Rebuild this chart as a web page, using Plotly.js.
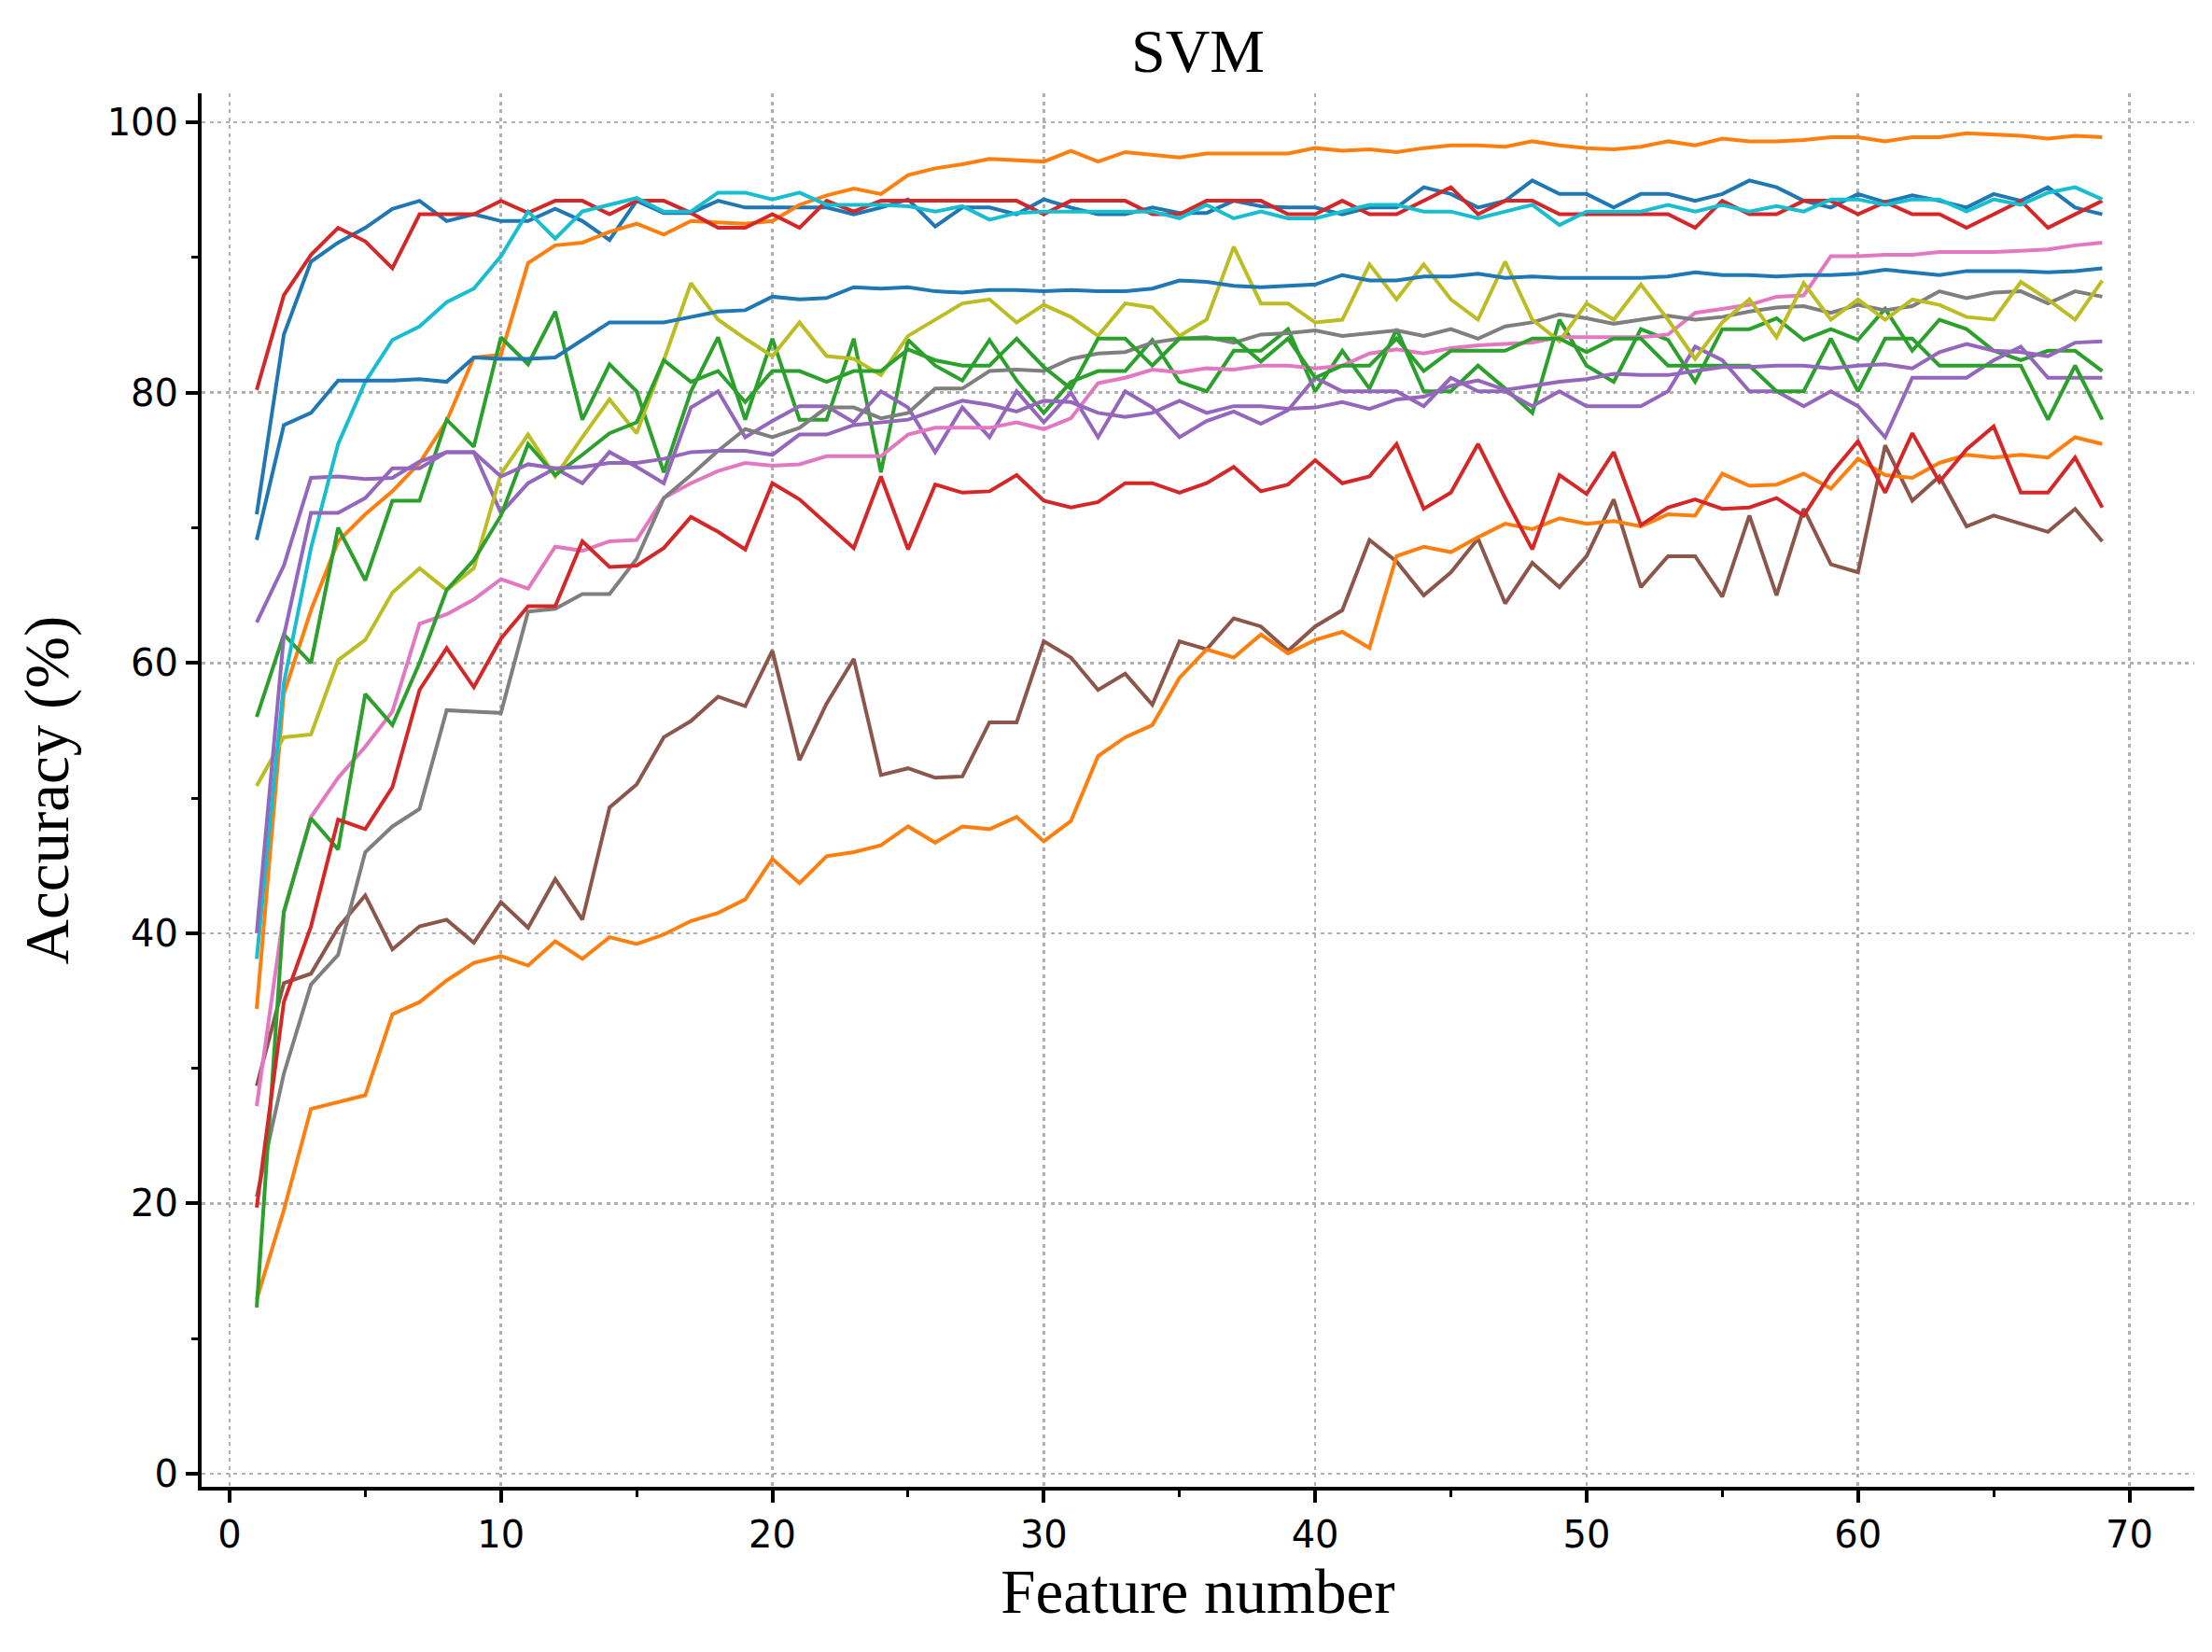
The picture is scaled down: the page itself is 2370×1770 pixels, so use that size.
<!DOCTYPE html>
<html>
<head>
<meta charset="utf-8">
<script src="https://cdn.plot.ly/plotly-3.0.1.min.js"></script>
<style>
  html, body { margin: 0; padding: 0; background: #ffffff; }
  #chart { width: 2370px; height: 1770px; }
</style>
</head>
<body>
<div id="chart"></div>
<script>
// Feature numbers (x axis)
const featureNumber = [1,2,3,4,5,6,7,8,9,10,11,12,13,14,15,16,17,18,19,20,
  21,22,23,24,25,26,27,28,29,30,31,32,33,34,35,36,37,38,39,40,
  41,42,43,44,45,46,47,48,49,50,51,52,53,54,55,56,57,58,59,60,
  61,62,63,64,65,66,67,68,69];

// Accuracy (%) series
const blueA = [71.0, 84.3, 89.7, 91.1, 92.2, 93.6, 94.2, 92.7, 93.2, 92.7,
  92.7, 93.6, 92.7, 91.3, 94.2, 93.3, 93.3, 94.2, 93.7, 93.7,
  93.7, 93.7, 93.2, 93.7, 94.3, 92.3, 93.7, 93.7, 93.2, 94.3,
  93.7, 93.2, 93.2, 93.7, 93.3, 93.3, 94.2, 93.8, 93.7, 93.7,
  93.2, 93.7, 93.7, 95.2, 94.7, 93.7, 94.2, 95.7, 94.7, 94.7,
  93.7, 94.7, 94.7, 94.2, 94.7, 95.7, 95.2, 94.2, 93.7, 94.7,
  94.1, 94.6, 94.2, 93.7, 94.7, 94.2, 95.2, 93.7, 93.2];

const orangeA = [34.4, 57.7, 63.9, 69.0, 71.0, 72.7, 74.8, 77.9, 82.6, 82.8,
  89.6, 90.9, 91.1, 91.9, 92.5, 91.7, 92.7, 92.6, 92.5, 92.7,
  93.9, 94.6, 95.1, 94.7, 96.1, 96.6, 96.9, 97.3, 97.2, 97.1,
  97.9, 97.1, 97.8, 97.6, 97.4, 97.7, 97.7, 97.7, 97.7, 98.1,
  97.9, 98.0, 97.8, 98.1, 98.3, 98.3, 98.2, 98.6, 98.3, 98.1,
  98.0, 98.2, 98.6, 98.3, 98.8, 98.6, 98.6, 98.7, 98.9, 98.9,
  98.6, 98.9, 98.9, 99.2, 99.1, 99.0, 98.8, 99.0, 98.9];

const greenA = [56.0, 62.1, 60.0, 70.0, 66.1, 72.0, 72.0, 78.0, 76.0, 84.1,
  82.1, 86.0, 78.0, 82.1, 80.1, 74.1, 80.1, 84.1, 78.0, 84.0,
  78.0, 78.0, 84.0, 74.1, 83.9, 82.0, 80.9, 83.9, 80.9, 78.5,
  80.8, 81.6, 81.6, 83.9, 80.8, 80.1, 83.1, 83.1, 84.7, 80.1,
  83.1, 80.3, 84.7, 80.1, 80.1, 82.0, 80.3, 78.5, 85.4, 82.0,
  80.8, 84.7, 83.9, 80.8, 84.7, 84.7, 85.5, 83.9, 84.7, 83.9,
  86.2, 83.1, 85.4, 84.7, 83.1, 82.4, 83.1, 83.1, 81.6];

const redA = [80.2, 87.2, 90.2, 92.2, 91.2, 89.2, 93.2, 93.2, 93.2, 94.2,
  93.3, 94.2, 94.2, 93.2, 94.2, 94.2, 93.3, 92.2, 92.2, 93.2,
  92.2, 94.2, 93.4, 94.2, 94.2, 94.2, 94.2, 94.2, 94.2, 93.2,
  94.2, 94.2, 94.2, 93.2, 93.2, 94.2, 94.2, 94.2, 93.2, 93.2,
  94.2, 93.2, 93.2, 94.2, 95.2, 93.2, 94.2, 94.2, 93.2, 93.2,
  93.2, 93.2, 93.2, 92.2, 94.2, 93.2, 93.2, 94.2, 94.2, 93.2,
  94.1, 93.2, 93.2, 92.2, 93.2, 94.2, 92.2, 93.2, 94.2];

const purpleA = [63.0, 67.2, 73.7, 73.8, 73.6, 73.7, 74.9, 75.6, 75.6, 71.1,
  73.3, 74.4, 73.3, 75.6, 74.5, 73.3, 78.9, 80.1, 76.7, 77.9,
  79.0, 79.0, 77.8, 80.1, 78.9, 75.6, 78.9, 76.7, 80.1, 77.8,
  80.0, 76.7, 80.1, 78.9, 76.7, 77.9, 78.6, 77.7, 78.7, 81.1,
  80.1, 80.1, 80.1, 79.0, 81.1, 80.1, 80.1, 79.0, 80.1, 79.0,
  79.0, 79.0, 80.1, 83.4, 82.4, 80.1, 80.1, 79.0, 80.1, 79.0,
  76.7, 81.1, 81.1, 81.1, 82.4, 83.4, 81.1, 81.1, 81.1];

const brown = [28.7, 36.3, 37.0, 40.4, 42.8, 38.8, 40.5, 41.0, 39.3, 42.3,
  40.4, 44.0, 41.0, 49.3, 51.0, 54.5, 55.7, 57.5, 56.8, 60.9,
  52.8, 57.0, 60.3, 51.7, 52.2, 51.5, 51.6, 55.6, 55.6, 61.6,
  60.4, 58.0, 59.2, 56.9, 61.6, 61.0, 63.3, 62.7, 60.9, 62.7,
  63.9, 69.1, 67.5, 65.0, 66.7, 69.2, 64.4, 67.4, 65.6, 67.9,
  72.1, 65.6, 67.9, 67.9, 64.9, 70.9, 65.0, 71.4, 67.3, 66.7,
  76.1, 72.0, 73.8, 70.1, 70.9, 70.3, 69.7, 71.4, 69.0];

const pink = [27.2, 41.5, 48.6, 51.5, 53.8, 56.4, 62.9, 63.6, 64.7, 66.2,
  65.5, 68.6, 68.3, 69.0, 69.1, 72.2, 73.3, 74.2, 74.8, 74.6,
  74.7, 75.3, 75.3, 75.3, 76.9, 77.4, 77.4, 77.4, 77.8, 77.3,
  78.1, 80.7, 81.1, 81.7, 81.5, 81.8, 81.7, 82.0, 82.0, 81.8,
  82.0, 82.9, 83.2, 82.9, 83.3, 83.5, 83.6, 83.7, 84.1, 84.1,
  84.1, 84.1, 84.3, 85.9, 86.2, 86.5, 87.1, 87.2, 90.1, 90.1,
  90.2, 90.2, 90.4, 90.4, 90.4, 90.5, 90.6, 90.9, 91.1];

const gray = [20.5, 29.6, 36.2, 38.4, 46.0, 47.9, 49.2, 56.5, 56.4, 56.3,
  63.8, 64.0, 65.1, 65.1, 67.7, 72.2, 73.9, 75.7, 77.3, 76.7,
  77.4, 78.9, 78.9, 78.1, 78.5, 80.3, 80.3, 81.6, 81.7, 81.6,
  82.5, 82.9, 83.0, 83.7, 84.0, 84.1, 83.7, 84.3, 84.4, 84.6,
  84.2, 84.4, 84.6, 84.2, 84.7, 84.0, 84.9, 85.2, 85.8, 85.5,
  85.1, 85.4, 85.7, 85.4, 85.6, 86.0, 86.3, 86.4, 85.9, 86.5,
  86.1, 86.4, 87.5, 87.0, 87.4, 87.5, 86.6, 87.5, 87.1];

const olive = [50.9, 54.5, 54.7, 60.2, 61.7, 65.2, 67.0, 65.4, 67.0, 74.0,
  76.9, 73.8, 76.7, 79.5, 77.0, 82.4, 88.1, 85.4, 84.0, 82.7,
  85.2, 82.7, 82.5, 81.3, 84.2, 85.4, 86.6, 86.9, 85.2, 86.5,
  85.6, 84.2, 86.6, 86.3, 84.2, 85.4, 90.8, 86.6, 86.6, 85.2,
  85.4, 89.5, 86.9, 89.5, 86.9, 85.4, 89.7, 85.4, 83.8, 86.6,
  85.4, 88.0, 85.4, 82.5, 85.2, 86.9, 84.1, 88.1, 85.4, 86.9,
  85.4, 86.9, 86.5, 85.6, 85.4, 88.2, 86.9, 85.4, 88.3];

const cyan = [38.1, 58.5, 68.5, 76.2, 80.8, 83.9, 84.9, 86.7, 87.7, 90.1,
  93.4, 91.4, 93.4, 93.9, 94.4, 93.4, 93.4, 94.8, 94.8, 94.3,
  94.8, 93.9, 93.9, 93.9, 93.8, 93.4, 93.8, 92.8, 93.3, 93.4,
  93.4, 93.4, 93.4, 93.4, 92.9, 93.9, 92.9, 93.4, 92.9, 92.9,
  93.4, 93.9, 93.9, 93.4, 93.4, 92.9, 93.4, 93.9, 92.4, 93.4,
  93.4, 93.4, 93.9, 93.4, 93.9, 93.4, 93.8, 93.4, 94.3, 94.3,
  93.9, 94.3, 94.3, 93.4, 94.3, 93.9, 94.8, 95.2, 94.3];

const blueB = [69.1, 77.6, 78.5, 80.9, 80.9, 80.9, 81.0, 80.8, 82.6, 82.5,
  82.5, 82.6, 83.9, 85.2, 85.2, 85.2, 85.6, 86.0, 86.1, 87.1,
  86.9, 87.0, 87.8, 87.7, 87.8, 87.5, 87.4, 87.6, 87.6, 87.5,
  87.6, 87.5, 87.5, 87.7, 88.3, 88.2, 87.9, 87.8, 87.9, 88.0,
  88.7, 88.3, 88.3, 88.6, 88.6, 88.8, 88.5, 88.6, 88.5, 88.5,
  88.5, 88.5, 88.6, 88.9, 88.7, 88.7, 88.6, 88.7, 88.7, 88.8,
  89.1, 88.9, 88.7, 89.0, 89.0, 89.0, 88.9, 89.0, 89.2];

const orangeB = [12.9, 19.5, 27.0, 27.5, 28.0, 34.0, 34.9, 36.5, 37.8, 38.3,
  37.6, 39.4, 38.1, 39.7, 39.2, 39.9, 40.9, 41.5, 42.5, 45.5,
  43.7, 45.7, 46.0, 46.5, 47.9, 46.7, 47.9, 47.7, 48.6, 46.8,
  48.3, 53.1, 54.5, 55.4, 58.9, 61.0, 60.4, 62.1, 60.7, 61.7,
  62.3, 61.1, 67.9, 68.6, 68.2, 69.3, 70.3, 69.9, 70.7, 70.3,
  70.5, 70.1, 71.0, 70.9, 74.0, 73.1, 73.2, 74.0, 72.9, 75.1,
  73.9, 73.7, 74.8, 75.4, 75.2, 75.4, 75.2, 76.7, 76.2];

const greenB = [12.3, 41.6, 48.5, 46.2, 57.7, 55.4, 60.0, 65.4, 67.6, 70.9,
  76.2, 73.9, 75.4, 77.0, 77.8, 82.4, 80.8, 81.6, 79.3, 81.6,
  81.6, 80.8, 81.6, 81.6, 83.2, 82.4, 82.0, 82.0, 84.0, 81.9,
  80.3, 84.0, 84.0, 82.0, 84.0, 84.0, 84.0, 82.3, 84.0, 81.1,
  82.0, 82.0, 84.0, 81.6, 83.1, 83.1, 83.1, 84.0, 84.0, 83.0,
  84.0, 84.0, 82.0, 82.0, 82.0, 82.0, 80.1, 80.1, 84.0, 80.1,
  84.0, 84.0, 82.0, 82.0, 82.0, 82.0, 78.0, 82.0, 78.0];

const redB = [19.7, 34.9, 40.5, 48.4, 47.7, 50.8, 58.0, 61.1, 58.2, 61.8,
  64.2, 64.2, 69.0, 67.1, 67.2, 68.5, 70.8, 69.7, 68.4, 73.3,
  72.1, 70.3, 68.5, 73.8, 68.4, 73.2, 72.6, 72.7, 73.9, 72.0,
  71.5, 71.9, 73.3, 73.3, 72.6, 73.3, 74.5, 72.7, 73.2, 75.0,
  73.3, 73.8, 76.2, 71.4, 72.6, 76.2, 72.2, 68.4, 73.9, 72.5,
  75.6, 70.2, 71.5, 72.1, 71.4, 71.5, 72.2, 70.9, 74.0, 76.4,
  72.6, 77.0, 73.4, 75.8, 77.5, 72.6, 72.6, 75.2, 71.5];

const purpleB = [40.0, 62.0, 71.1, 71.1, 72.2, 74.4, 74.4, 75.6, 75.6, 73.8,
  74.7, 74.4, 74.5, 74.8, 74.8, 75.1, 75.6, 75.7, 75.7, 75.4,
  76.9, 76.9, 77.6, 77.8, 78.0, 78.7, 79.4, 79.1, 78.6, 79.4,
  79.3, 78.5, 78.2, 78.5, 79.4, 78.5, 79.0, 79.0, 78.8, 78.9,
  79.3, 78.8, 79.5, 79.7, 80.5, 80.9, 80.2, 80.5, 80.8, 81.0,
  81.4, 81.3, 81.3, 81.6, 81.9, 81.9, 82.0, 82.0, 81.8, 82.0,
  82.1, 81.8, 83.0, 83.6, 83.1, 83.0, 82.7, 83.7, 83.8];

// Series in plotting order with matplotlib tab10 colours
const seriesList = [
  [blueA,   '#1f77b4'],
  [orangeA, '#ff7f0e'],
  [greenA,  '#2ca02c'],
  [redA,    '#d62728'],
  [purpleA, '#9467bd'],
  [brown,   '#8c564b'],
  [pink,    '#e377c2'],
  [gray,    '#7f7f7f'],
  [olive,   '#bcbd22'],
  [cyan,    '#17becf'],
  [blueB,   '#1f77b4'],
  [orangeB, '#ff7f0e'],
  [greenB,  '#2ca02c'],
  [redB,    '#d62728'],
  [purpleB, '#9467bd']
];

const traces = seriesList.map(([vals, col]) => ({
  x: featureNumber,
  y: vals,
  type: 'scatter',
  mode: 'lines',
  line: { color: col, width: 4 },
  hoverinfo: 'skip',
  showlegend: false
}));

const tickFont = { family: 'DejaVu Sans', size: 40, color: '#000000' };
const titleFont = { family: 'Liberation Serif', size: 67, color: '#000000' };

const axisCommon = {
  showline: true, linecolor: '#000000', linewidth: 4, mirror: false,
  ticks: 'outside', ticklen: 13, tickwidth: 4, tickcolor: '#000000',
  showgrid: true, gridcolor: '#b0b0b0', gridwidth: 2.5, griddash: '4px,4.5px',
  zeroline: false, tickfont: tickFont, automargin: false
};

const layout = {
  width: 2370, height: 1770,
  margin: { l: 216, r: 19, t: 100, b: 177, pad: 0 },
  paper_bgcolor: '#ffffff', plot_bgcolor: '#ffffff',
  showlegend: false,
  title: {
    text: 'SVM', font: { family: 'Liberation Serif', size: 66, color: '#000000' },
    x: 0.5, xref: 'paper', xanchor: 'center',
    y: 0.9695, yref: 'container', yanchor: 'middle'
  },
  xaxis: Object.assign({}, axisCommon, {
    range: [-1.03, 72.39], tick0: 0, dtick: 10,
    minor: { ticks: 'outside', ticklen: 7, tickwidth: 3, tickcolor: '#000000', dtick: 5, tick0: 0, showgrid: false },
    title: { text: 'Feature number', font: titleFont, standoff: 16 }
  }),
  yaxis: Object.assign({}, axisCommon, {
    range: [-0.97, 102.15], tick0: 0, dtick: 20,
    minor: { ticks: 'outside', ticklen: 7, tickwidth: 3, tickcolor: '#000000', dtick: 10, tick0: 0, showgrid: false },
    title: { text: 'Accuracy (%)', font: titleFont, standoff: 20 }
  })
};

Plotly.newPlot('chart', traces, layout, { displayModeBar: false, staticPlot: true });
</script>
</body>
</html>
